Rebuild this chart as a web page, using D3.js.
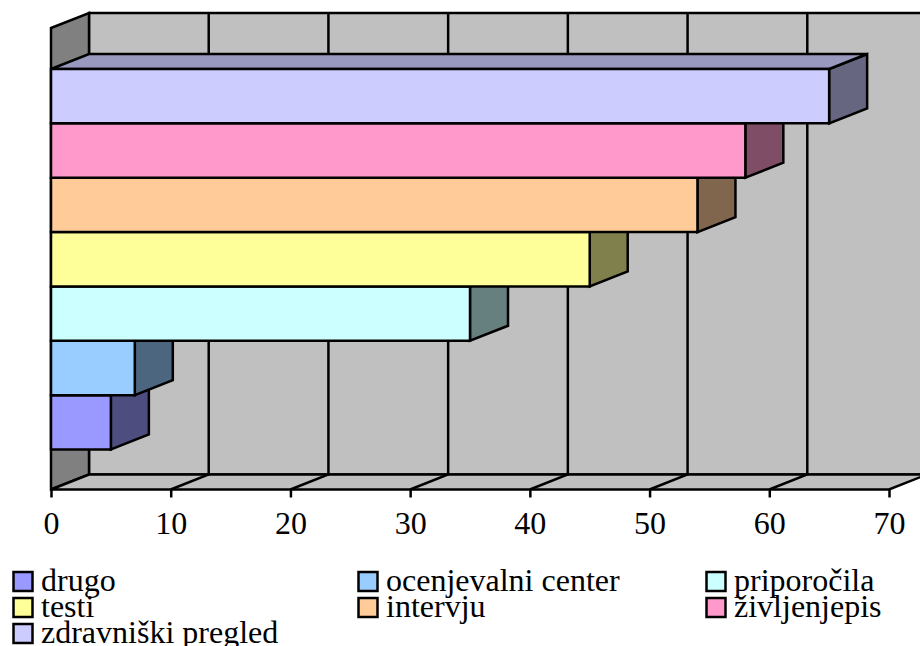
<!DOCTYPE html>
<html><head><meta charset="utf-8">
<script src="https://cdnjs.cloudflare.com/ajax/libs/d3/7.8.5/d3.min.js"></script>
<style>html,body{margin:0;padding:0;background:#fff;overflow:hidden}svg{display:block}
text{font-family:"Liberation Serif","Times New Roman",serif;fill:#000}</style>
</head><body>
<script>
const categories = ["drugo","ocenjevalni center","priporočila","testi","intervju","življenjepis","zdravniški pregled"];
const values = [5,7,35,45,54,58,65];
const colors = ["#9999FF","#99CCFF","#CCFFFF","#FFFF99","#FFCC99","#FF99CC","#CCCCFF"];
const tickValues = [0,10,20,30,40,50,60,70];

const W=920,H=646, sw=2.5;
const svg=d3.select("body").append("svg").attr("width",W).attr("height",H);
const x=d3.scaleLinear().domain([0,70]).range([51,889]);
const y=d3.scaleBand().domain(categories).range([449.5,69]).padding(0);
const yFloor=489.5, yTop=28, dx=38, dy=-15;
const line=d3.line();
const poly=(pts,fill)=>svg.append("path").attr("d",line(pts)+"Z").attr("fill",fill)
  .attr("stroke","#000").attr("stroke-width",sw).attr("stroke-linejoin","miter");

// walls
poly([[x(0)+dx,yTop+dy],[x(70)+dx,yTop+dy],[x(70)+dx,yFloor+dy],[x(0)+dx,yFloor+dy]],"#C0C0C0");
poly([[x(0),yTop],[x(0)+dx,yTop+dy],[x(0)+dx,yFloor+dy],[x(0),yFloor]],"#808080");
poly([[x(0),yFloor],[x(70),yFloor],[x(70)+dx,yFloor+dy],[x(0)+dx,yFloor+dy]],"#C0C0C0");

// gridlines on wall and floor
tickValues.slice(1,-1).forEach(t=>{
  svg.append("path").attr("d",line([[x(t),yFloor],[x(t)+dx,yFloor+dy],[x(t)+dx,yTop+dy]]))
    .attr("fill","none").attr("stroke","#000").attr("stroke-width",sw);
});

// axis
const axis=d3.axisBottom(x).tickValues(tickValues).tickSize(8).tickPadding(14).tickFormat(d3.format("d"));
const ax=svg.append("g").attr("transform",`translate(0,${yFloor})`).call(axis);
ax.select(".domain").remove();
ax.selectAll("line").attr("stroke","#000").attr("stroke-width",sw);
ax.selectAll("text").attr("font-size",32).attr("font-family",'"Liberation Serif",serif').attr("fill","#000");

// bars, bottom to top
categories.forEach((c,i)=>{
  const x0=x(0),x1=x(values[i]),t=y(c),b=t+y.bandwidth(),col=d3.rgb(colors[i]);
  const shade=k=>d3.rgb(col.r*k,col.g*k,col.b*k).formatHex();
  poly([[x1,t],[x1+dx,t+dy],[x1+dx,b+dy],[x1,b]],shade(0.5));
  poly([[x0,t],[x0+dx,t+dy],[x1+dx,t+dy],[x1,t]],shade(0.75));
  poly([[x0,t],[x1,t],[x1,b],[x0,b]],colors[i]);
});

// legend
const legendX=[13.5,358.5,706.5], legendY=[572,598,624];
categories.forEach((c,i)=>{
  const lx=legendX[i%3], ly=legendY[Math.floor(i/3)];
  svg.append("rect").attr("x",lx).attr("y",ly).attr("width",19).attr("height",19)
    .attr("fill",colors[i]).attr("stroke","#000").attr("stroke-width",sw);
  svg.append("text").attr("x",lx+27.5).attr("y",ly+19).attr("font-size",32).text(c);
});
</script>
</body></html>
